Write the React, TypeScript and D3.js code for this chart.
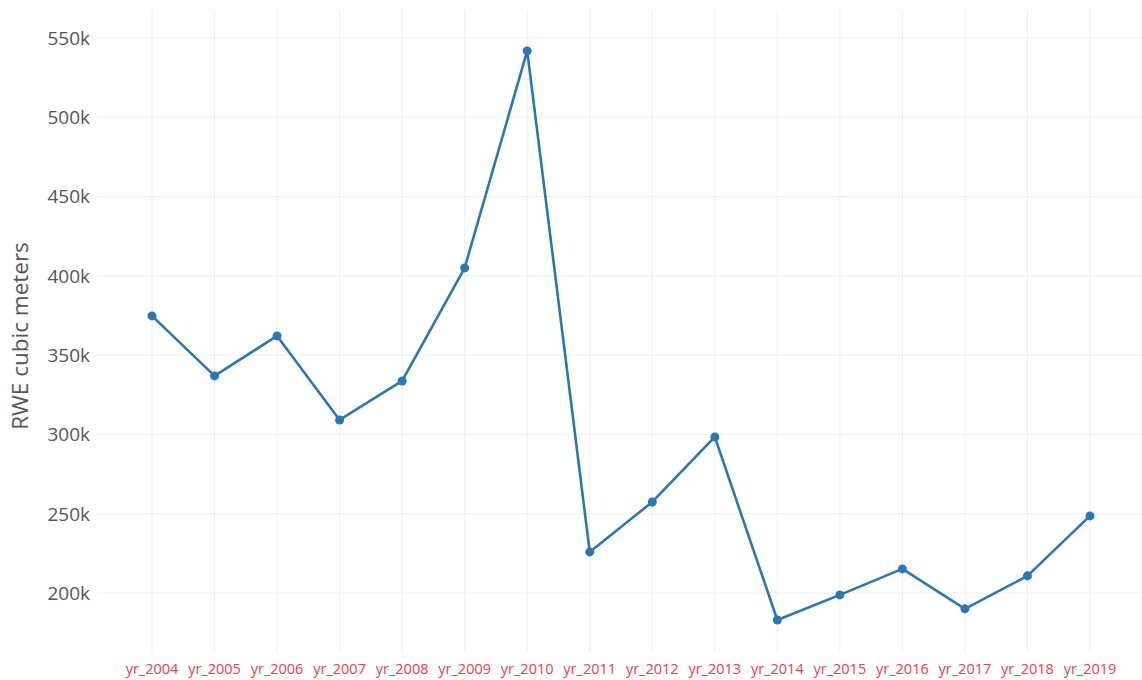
import React, {useEffect, useRef} from 'react';
import * as d3 from 'd3';

const years: string[] = [
  'yr_2004', 'yr_2005', 'yr_2006', 'yr_2007', 'yr_2008', 'yr_2009', 'yr_2010', 'yr_2011',
  'yr_2012', 'yr_2013', 'yr_2014', 'yr_2015', 'yr_2016', 'yr_2017', 'yr_2018', 'yr_2019',
];
const volumes: number[] = [
  374700, 336900, 362100, 309100, 333700, 405000, 541800, 225900,
  257400, 298400, 183000, 198800, 215200, 190000, 210800, 248600,
];
const yTicks: number[] = [200000, 250000, 300000, 350000, 400000, 450000, 500000, 550000];

const W = 1142;
const H = 680;

const App: React.FC = () => {
  const svgRef = useRef<SVGSVGElement>(null);

  useEffect(() => {
    const svg = d3.select(svgRef.current);
    svg.selectAll('*').remove();

    const left = 97;
    const right = 1142;
    const top = 10;
    const bottom = 652;

    // category positions, padded like plotly does for markers
    const x = d3
      .scalePoint<string>()
      .domain(years)
      .range([152, 1090]);
    const y = d3.scaleLinear().domain([162800, 567600]).range([bottom, top]);

    const g = svg.append('g');

    // horizontal grid
    g.append('g')
      .selectAll('line')
      .data(yTicks)
      .enter()
      .append('line')
      .attr('x1', left)
      .attr('x2', right)
      .attr('y1', (d) => y(d))
      .attr('y2', (d) => y(d))
      .attr('stroke', '#eeeeee')
      .attr('stroke-width', 1);

    // vertical grid
    g.append('g')
      .selectAll('line')
      .data(years)
      .enter()
      .append('line')
      .attr('x1', (d) => x(d)!)
      .attr('x2', (d) => x(d)!)
      .attr('y1', top)
      .attr('y2', bottom)
      .attr('stroke', '#eeeeee')
      .attr('stroke-width', 1);

    // y tick labels
    g.append('g')
      .selectAll('text')
      .data(yTicks)
      .enter()
      .append('text')
      .attr('x', 90)
      .attr('y', (d) => y(d))
      .attr('dy', '0.36em')
      .attr('text-anchor', 'end')
      .attr('font-family', '"Open Sans", sans-serif')
      .attr('font-size', 19)
      .attr('fill', '#555555')
      .text((d) => d3.format('~s')(d));

    // x tick labels
    g.append('g')
      .selectAll('text')
      .data(years)
      .enter()
      .append('text')
      .attr('x', (d) => x(d)!)
      .attr('y', 674)
      .attr('text-anchor', 'middle')
      .attr('font-family', '"Open Sans", sans-serif')
      .attr('font-size', 14.5)
      .attr('fill', '#e8404f')
      .text((d) => d);

    // y axis title
    g.append('text')
      .attr('transform', `translate(28,336) rotate(-90)`)
      .attr('text-anchor', 'middle')
      .attr('font-family', '"Open Sans", sans-serif')
      .attr('font-size', 22.5)
      .attr('fill', '#555555')
      .text('RWE cubic meters');

    const line = d3
      .line<number>()
      .x((_, i) => x(years[i])!)
      .y((d) => y(d));

    g.append('path')
      .datum(volumes)
      .attr('d', line)
      .attr('fill', 'none')
      .attr('stroke', '#2a77b2')
      .attr('stroke-width', 2.6)
      .attr('stroke-linejoin', 'round');

    g.append('g')
      .selectAll('circle')
      .data(volumes)
      .enter()
      .append('circle')
      .attr('cx', (_, i) => x(years[i])!)
      .attr('cy', (d) => y(d))
      .attr('r', 4.5)
      .attr('fill', '#2a77b2');
  }, []);

  return (
    <div style={{position: 'absolute', left: 0, top: 0, width: W, height: H, background: '#fff'}}>
      <svg ref={svgRef} width={W} height={H}></svg>
    </div>
  );
};

export default App;
